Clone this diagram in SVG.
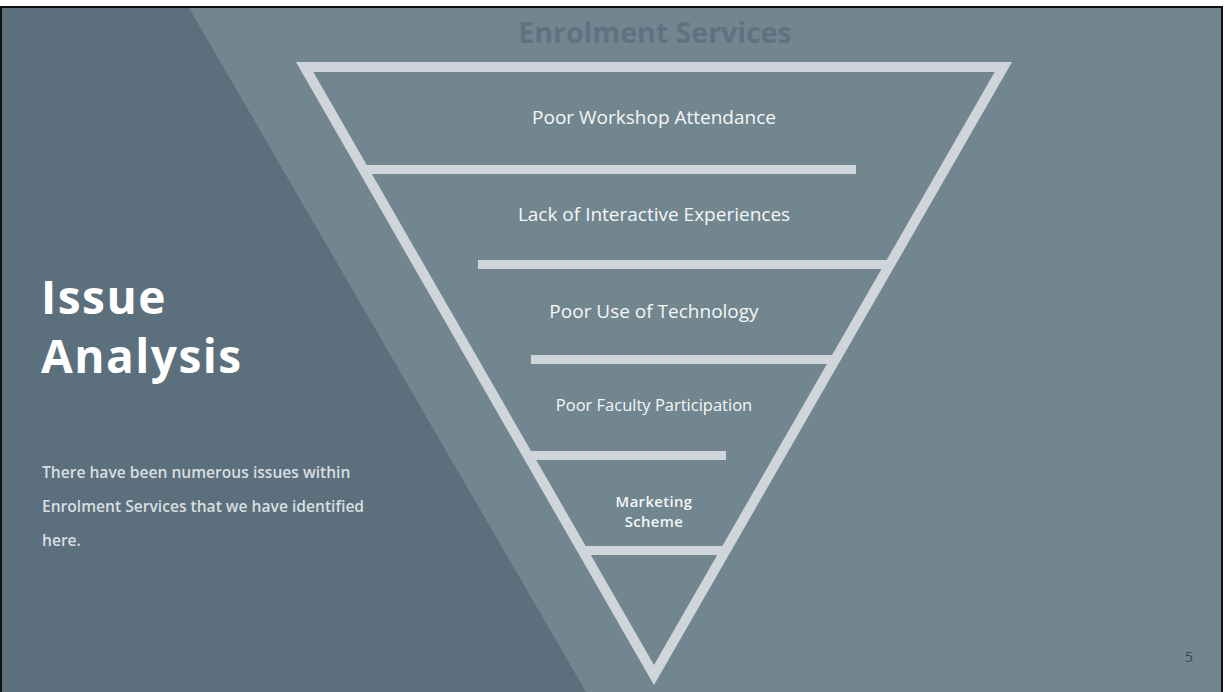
<svg xmlns="http://www.w3.org/2000/svg" width="1225" height="692" viewBox="0 0 1225 692">
  <style>
    .bar { fill: #d0d5db; }
    .lvl { font-family: "Open Sans", Lato, "Liberation Sans", sans-serif; fill: #f4f6f7; text-anchor: middle; }
    .body { font-family: "Open Sans", Lato, "Liberation Sans", sans-serif; fill: #d9dee1; font-size: 15.6px; font-weight: 600; }
    .title { font-family: "Open Sans", Lato, "Liberation Sans", sans-serif; fill: #ffffff; font-size: 46px; font-weight: 700; letter-spacing: 1.5px; }
  </style>

  <!-- page and slide frame -->
  <rect x="0" y="0" width="1225" height="692" fill="#ffffff"/>
  <rect x="1" y="7" width="1221" height="690" fill="#72868f" stroke="#111" stroke-width="2"/>
  <!-- darker diagonal panel on the left -->
  <polygon points="2,8 189,8 586,692 2,692" fill="#5b707c"/>

  <!-- heading -->
  <text x="655" y="43" text-anchor="middle" font-family="'Open Sans', Lato, 'Liberation Sans', sans-serif" font-size="28.5" font-weight="700" fill="#5d7382">Enrolment Services</text>

  <!-- inverted pyramid outline -->
  <g id="pyramid">
    <path class="bar" fill-rule="evenodd" d="M296,62 L1012,62 L654,685 Z M313.3,72 L994.7,72 L654,665 Z"/>
  </g>

  <g id="connectors">
    <rect class="bar" x="364" y="165" width="492" height="9"/>
    <rect class="bar" x="478" y="260" width="410" height="9"/>
    <rect class="bar" x="531" y="355" width="303" height="9"/>
    <rect class="bar" x="529" y="451" width="197" height="9"/>
    <rect class="bar" x="583" y="546" width="141" height="9"/>
  </g>

  <g id="level1"><text class="lvl" x="654" y="124" font-size="19">Poor Workshop Attendance</text></g>
  <g id="level2"><text class="lvl" x="654" y="221" font-size="19">Lack of Interactive Experiences</text></g>
  <g id="level3"><text class="lvl" x="654" y="318" font-size="19">Poor Use of Technology</text></g>
  <g id="level4"><text class="lvl" x="654" y="411" font-size="16.5">Poor Faculty Participation</text></g>
  <g id="level5">
    <text class="lvl" x="654" y="507" font-size="14.8" font-weight="600" letter-spacing="0.4">Marketing</text>
    <text class="lvl" x="654" y="527" font-size="14.8" font-weight="600" letter-spacing="0.4">Scheme</text>
  </g>

  <!-- left panel text -->
  <g id="title">
    <text class="title" x="41" y="314">Issue</text>
    <text class="title" x="41" y="373">Analysis</text>
  </g>
  <g id="description">
    <text class="body" x="42" y="478">There have been numerous issues within</text>
    <text class="body" x="42" y="512">Enrolment Services that we have identified</text>
    <text class="body" x="42" y="546">here.</text>
  </g>

  <!-- slide number -->
  <text x="1189" y="662" text-anchor="middle" font-family="'Open Sans', 'Liberation Sans', sans-serif" font-size="14" fill="#39454e">5</text>
</svg>
